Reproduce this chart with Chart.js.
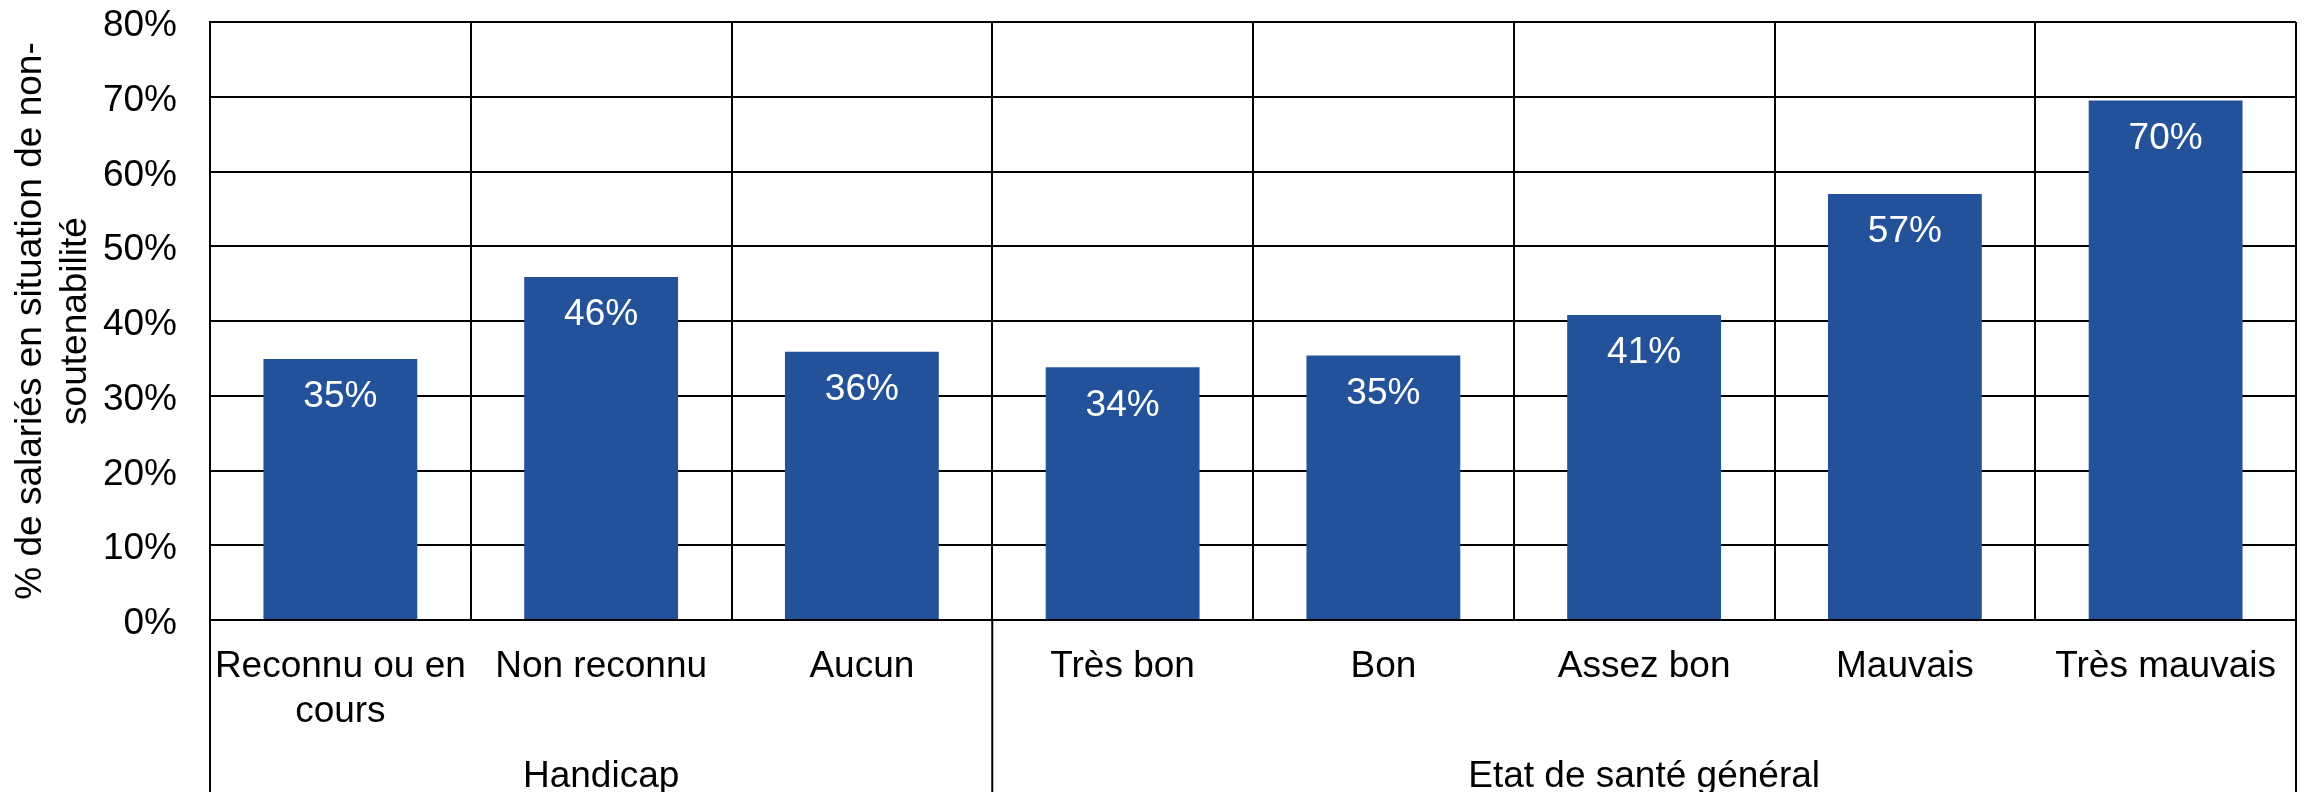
<!DOCTYPE html>
<html>
<head>
<meta charset="utf-8">
<script src="https://cdn.jsdelivr.net/npm/chart.js@4.4.1/dist/chart.umd.min.js"></script>
<style>
    body { margin: 0; background: #fff; }
</style>
</head>
<body>
<canvas id="myChart" width="2308" height="792"></canvas>
<script>
const categories = [['Reconnu ou en', 'cours'], 'Non reconnu', 'Aucun', 'Très bon', 'Bon', 'Assez bon', 'Mauvais', 'Très mauvais'];
const values = [34.9, 45.9, 35.9, 33.8, 35.4, 40.8, 57.0, 69.5];
const groups = ['Handicap', 'Etat de santé général'];
const groupSizes = [3, 5];
const yTitle = ['% de salariés en situation de non-', 'soutenabilité'];

const FONT = "'Liberation Sans', Arial, sans-serif";
Chart.defaults.font.family = FONT;
Chart.defaults.font.size = 37;
Chart.defaults.color = '#000';

// white % labels inside the top of each bar
const barLabels = {
    id: 'barLabels',
    afterDatasetsDraw(chart) {
        const ctx = chart.ctx;
        ctx.save();
        ctx.fillStyle = '#fff';
        ctx.font = '37px ' + FONT;
        ctx.textAlign = 'center';
        ctx.textBaseline = 'middle';
        chart.getDatasetMeta(0).data.forEach((bar, i) => {
            ctx.fillText(Math.round(values[i]) + '%', bar.x, bar.y + 38);
        });
        ctx.restore();
    }
};

// second level of the category axis: group names and separators
const groupAxis = {
    id: 'groupAxis',
    afterDraw(chart) {
        const ctx = chart.ctx;
        const x = chart.scales.x;
        const area = chart.chartArea;
        const half = (x.getPixelForValue(1) - x.getPixelForValue(0)) / 2;
        const edge = i => x.getPixelForValue(i) - half;
        ctx.save();
        ctx.strokeStyle = '#000';
        ctx.lineWidth = 2;
        ctx.fillStyle = '#000';
        ctx.font = '37px ' + FONT;
        ctx.textAlign = 'center';
        ctx.textBaseline = 'alphabetic';
        const drawLine = px => {
            ctx.beginPath();
            ctx.moveTo(px, area.bottom);
            ctx.lineTo(px, chart.height);
            ctx.stroke();
        };
        drawLine(edge(0));
        let start = 0;
        groups.forEach((g, k) => {
            const end = start + groupSizes[k];
            drawLine(edge(end));
            ctx.fillText(g, (edge(start) + edge(end)) / 2, area.bottom + 167);
            start = end;
        });
        ctx.restore();
    }
};

new Chart(document.getElementById('myChart'), {
    type: 'bar',
    data: {
        labels: categories,
        datasets: [{
            data: values,
            backgroundColor: '#23529B',
            barPercentage: 0.59,
            categoryPercentage: 1
        }]
    },
    options: {
        responsive: false,
        animation: false,
        layout: { padding: { top: 22, right: 12, left: 0, bottom: 0 } },
        plugins: {
            legend: { display: false },
            tooltip: { enabled: false }
        },
        scales: {
            x: {
                grid: { offset: true, color: '#000', lineWidth: 2, drawTicks: false },
                border: { color: '#000', width: 2 },
                ticks: {
                    font: { size: 37, lineHeight: 1.2 },
                    padding: 25,
                    maxRotation: 0,
                    autoSkip: false
                },
                afterFit(s) { s.height = 172; }
            },
            y: {
                min: 0,
                max: 80,
                grid: { color: '#000', lineWidth: 2, drawTicks: false },
                border: { color: '#000', width: 2 },
                ticks: {
                    stepSize: 10,
                    padding: 33,
                    labelOffset: 4,
                    callback: v => v + '%'
                },
                title: {
                    display: true,
                    text: yTitle,
                    font: { size: 37, lineHeight: 1.2 },
                    padding: { top: 9, bottom: 0 }
                },
                afterFit(s) {
                    s.width = 210;
                    s.paddingTop = 22;
                    s.paddingBottom = 0;
                }
            }
        }
    },
    plugins: [barLabels, groupAxis]
});
</script>
</body>
</html>
